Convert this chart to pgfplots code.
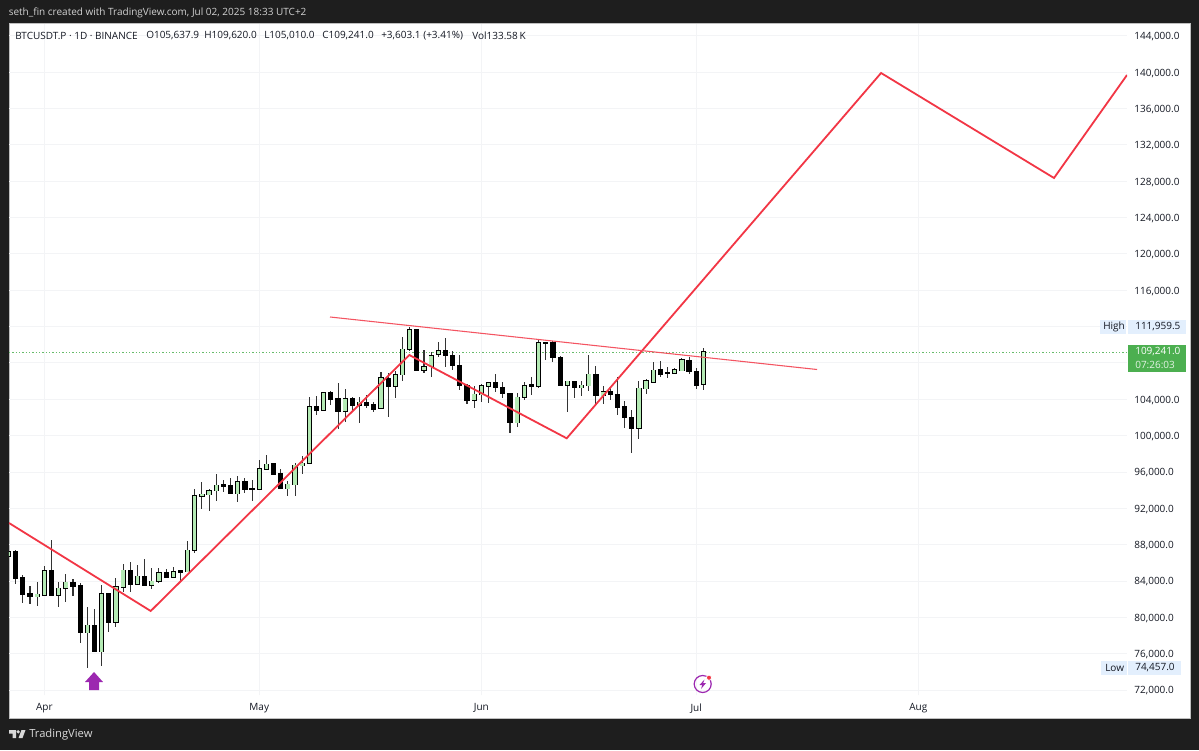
\documentclass[border=0pt]{standalone}
\usepackage{fontspec}
\setmainfont{Open Sans}
\usepackage{pgfplots}
\usepackage{pgfplotstable}
\pgfplotsset{compat=1.18}
\definecolor{tvdark}{HTML}{1E1E1E}
\definecolor{tvred}{HTML}{F23645}
\definecolor{tvgreen}{HTML}{4CAF50}
\definecolor{tvdots}{HTML}{66BB6A}
\definecolor{tvbody}{HTML}{B4EAB4}
\definecolor{tvgrid}{HTML}{F3F4F6}
\definecolor{tvtext}{HTML}{131722}
\definecolor{tvlabel}{HTML}{E3EFFD}
\definecolor{tvpurple}{HTML}{9C27B0}
\pgfplotstableread{
d low bot top high
-5 86530 86750 87190 87410
-1 81280 82270 82540 83860
0 82460 82460 85100 85680
2 81170 82460 83200 83860
3 81690 83200 83860 84740
6 74457 78310 79120 81170
8 74680 76220 82600 83560
10 78970 79490 83370 84300
11 82760 83340 85180 85870
13 83560 83640 84520 85760
15 83120 83530 83970 85460
16 83750 83970 84880 85400
18 84300 84410 84990 85570
20 85020 85020 87380 88370
21 87080 87410 93360 94130
22 91890 93320 93550 94930
23 91710 93500 93940 94130
24 92840 93940 94540 95780
27 92730 93610 94930 95590
30 94100 94100 96360 97320
31 96330 96330 96850 97840
34 93390 94160 94650 95040
35 93360 94600 96740 97020
36 95750 96690 96960 97760
37 96960 96960 103190 104220
39 102830 102830 104730 104840
42 101470 102680 104040 105100
44 101360 103340 103670 104220
47 103010 103010 106350 107040
49 104110 105470 106710 107150
50 106050 106710 109510 110830
51 109290 109510 111630 111959.5
53 106870 107230 107590 109430
54 106490 107590 108800 109180
55 108630 108960 109350 110280
60 103010 103930 104550 105470
61 103740 104510 105500 105690
62 103630 105470 105800 105940
66 100990 101430 104220 104660
67 103930 104220 105500 105940
69 105280 105470 110230 110530
73 102640 105580 105980 106050
75 104400 105280 105540 106050
76 104950 105500 106760 108880
78 103490 104400 104810 105500
83 99600 100840 105210 106020
84 104590 105170 106020 106240
85 105770 105910 107200 108080
88 106760 106870 107230 107480
89 107150 107150 108330 108520
92 105010 105637.9 109241 109620
}\greencandles
\pgfplotstableread{
d low bot top high
-4 83640 84300 87230 87410
-3 81610 82570 84330 84630
-2 81470 82270 82600 83480
1 82400 82460 85100 88510
4 82350 83420 83860 84190
5 77140 78310 83450 83750
7 76220 76220 79120 80880
9 78420 79490 82600 82600
12 82760 83640 85180 86060
14 83530 83530 84520 86450
17 84300 84360 84910 85290
19 83920 84990 85100 85210
25 93830 94460 94570 95120
26 93610 93610 94540 95310
28 93720 94100 94900 95310
29 92840 94100 94200 95120
32 95700 95700 96880 96880
33 94160 94160 95780 96300
38 102310 102830 103190 104370
40 103340 104040 104730 104950
41 100770 102680 104040 105770
43 102640 103340 104040 104290
45 103010 103340 103630 104480
46 102570 102940 103380 103740
48 102090 105470 106320 106900
52 107120 107230 111630 111740
56 107590 108850 109350 110720
57 107230 107700 108850 109350
58 105030 105500 107700 108880
59 103490 103930 105500 105690
63 104840 105280 105800 106760
64 104110 104660 105280 105940
65 100330 101430 104660 104660
68 104480 105470 105580 106490
70 108330 110170 110280 110340
71 108080 108580 110280 110420
72 105580 105580 108580 108770
74 104180 105280 105980 106020
77 103340 104400 106760 107670
79 103930 104550 104840 105210
80 102280 103160 104550 106430
81 100880 101980 103230 103850
82 98120 100840 102020 102830
86 106490 106790 107230 108220
87 106320 106820 106930 107590
90 106760 107040 108300 108630
91 105140 105580 107040 107420
}\blackcandles
\newcommand\tx[4][tvtext]{\node[anchor=west,inner sep=0pt,text=#1] at (#2,#3) {#4};}
\begin{document}
\begin{tikzpicture}
\fill[tvdark] (0,0) rectangle (899.25pt,562.5pt);
\begin{scope}[shift={(0,562.5pt)},x=0.75pt,y=-0.75pt]
\filldraw[fill=white,draw=black!25,line width=0.75pt] (9,24) rectangle (1190,718);
\end{scope}
\begin{axis}[
  at={(6.75pt,41.25pt)},anchor=south west,
  scale only axis,width=838.5pt,height=503.25pt,
  xmin=-4.93,xmax=151.13,ymin=71450,ymax=145320,
  axis line style={draw=none},
  major tick length=0pt,
  ticklabel style={font=\fontsize{7.5}{9}\selectfont,text=tvtext},
  xtick={0,30,61,91,122},xticklabels={Apr,May,Jun,Jul,Aug},
  x tick label style={yshift=-3pt},
  xticklabel pos=bottom,
  ytick={72000,76000,80000,84000,88000,92000,96000,100000,104000,116000,120000,124000,128000,132000,136000,140000,144000},
  extra y ticks={108000,112000},extra y tick labels={},
  extra y tick style={grid=major},
  yticklabel pos=right,
  scaled y ticks=false,
  y tick label style={anchor=west,xshift=2pt,yshift=-0.75pt,
    /pgf/number format/.cd,fixed,fixed zerofill,precision=1,1000 sep={,},assume math mode=true},
  grid=major,grid style={tvgrid,line width=0.75pt},
  error bars/error mark=none,
  candle/.style={draw=none,mark=none,forget plot,error bars/.cd,y dir=both,y explicit,
     error bar style={#1,line cap=butt,solid}},
]
% last price line
\addplot[draw=tvdots,line width=0.75pt,dash pattern=on 0.9pt off 1.6pt,forget plot] coordinates {(-4.93,109180) (151.13,109180)};
% wicks
\addplot[candle={draw=black!80,line width=0.8pt}]
  table[x=d,y=top,y error plus expr=\thisrow{high}-\thisrow{top},y error minus expr=\thisrow{top}-\thisrow{low}] {\greencandles};
\addplot[candle={draw=black!80,line width=0.8pt}]
  table[x=d,y=top,y error plus expr=\thisrow{high}-\thisrow{top},y error minus expr=\thisrow{top}-\thisrow{low}] {\blackcandles};
% bodies
\addplot[candle={draw=black,line width=3.9pt}]
  table[x=d,y=top,y error plus expr=70,y error minus expr=\thisrow{top}-\thisrow{bot}+70] {\blackcandles};
\addplot[candle={draw=black,line width=3.9pt}]
  table[x=d,y=top,y error plus expr=70,y error minus expr=\thisrow{top}-\thisrow{bot}+70] {\greencandles};
\addplot[candle={draw=tvbody,line width=2.6pt}]
  table[x=d,y=top,y error plus expr=0,y error minus expr=\thisrow{top}-\thisrow{bot}] {\greencandles};
% drawings
\addplot[tvred,line width=1.35pt,line join=miter,forget plot] coordinates {
 (-4.93,90385) (14.85,80697) (50.95,108880) (72.92,99710) (116.8,139926) (140.94,128366) (151.13,139705)};
\addplot[tvred!85,line width=0.8pt,forget plot] coordinates {(39.88,113064) (107.86,107284)};
\addplot[fill=tvpurple,draw=none,forget plot] coordinates {
 (5.68,72881) (6.94,73982) (8.19,72881) (7.64,72881) (7.64,72000) (6.24,72000) (6.24,72881)} -- cycle;
\end{axis}
\begin{scope}[shift={(0,562.5pt)},x=0.75pt,y=-0.75pt,font=\fontsize{7.5}{9}\selectfont]
% header
\tx[white!82!black]{8.5}{13}{seth\_fin created with TradingView.com, Jul 02, 2025 18:33 UTC+2}
\tx{15}{36}{BTCUSDT.P · 1D · BINANCE}
\tx{146}{36}{O105,637.9}
\tx{204}{36}{H109,620.0}
\tx{264}{36}{L105,010.0}
\tx{322}{36}{C109,241.0}
\tx{381}{36}{+3,603.1 (+3.41\%)}
\tx{472}{36}{Vol133.58\,K}
% price scale labels
\fill[tvlabel] (1100,320) rectangle (1126,334);
\fill[tvlabel] (1128,320) rectangle (1186,334);
\tx{1103}{327}{High}
\tx{1135}{327}{111,959.5}
\fill[tvgreen] (1128,345) rectangle (1186,372);
\tx[white]{1135}{352}{109,241.0}
\tx[white!85!tvgreen]{1135}{365}{07:26:03}
\fill[tvlabel] (1101,661) rectangle (1127,675);
\fill[tvlabel] (1128,661) rectangle (1181,675);
\tx{1105}{668}{Low}
\tx{1135}{668}{74,457.0}
% event icon
\draw[tvpurple,line width=0.9pt] (702.7,684) circle (8.5);
\fill[tvpurple] (704.5,679.5)--(699.5,685)--(702.3,685)--(701,689)--(706,683)--(703.2,683)--cycle;
\filldraw[fill=tvred,draw=white,line width=0.6pt] (709,677.7) circle (2.6);
% footer
\fill[white!85!black] (9,730)--(16,730)--(16,738)--(12.5,738)--(12.5,733.5)--(9,733.5)--cycle;
\fill[white!85!black] (18.2,731.8) circle (1.8);
\fill[white!85!black] (18.5,738)--(21.5,730)--(25.5,730)--(22.5,738)--cycle;
\node[anchor=west,inner sep=0pt,text=white!85!black,font=\fontsize{8.4}{10}\selectfont] at (29,734.5) {TradingView};
\end{scope}
\end{tikzpicture}
\end{document}
